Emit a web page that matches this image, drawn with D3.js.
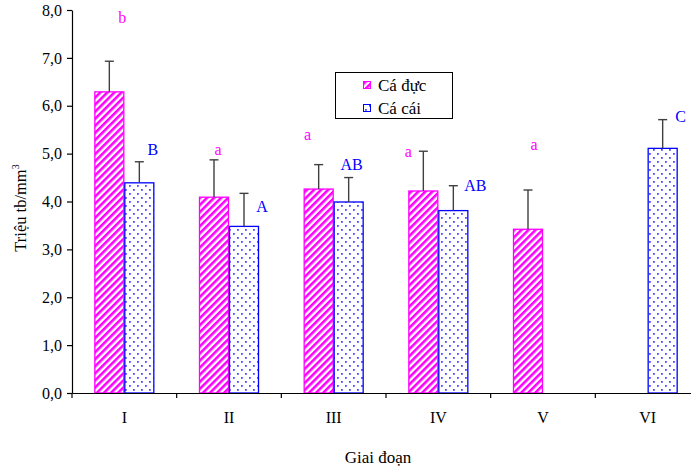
<!DOCTYPE html>
<html><head><meta charset="utf-8">
<script src="https://cdn.jsdelivr.net/npm/d3@7"></script>
<style>
body{margin:0;background:#fff;}
svg text{font-family:"Liberation Serif","Times New Roman","DejaVu Serif",serif !important;}
</style></head>
<body><svg id="c" width="691" height="470" font-family="Liberation Serif, serif"></svg>
<script>
const categories = ["I","II","III","IV","V","VI"];
const seriesNames = ["Cá đực","Cá cái"];
const maleMean = [6.29, 4.09, 4.26, 4.22, 3.42, null];
const maleSD   = [0.64, 0.78, 0.51, 0.83, 0.82, null];
const femaleMean = [4.39, 3.48, 3.99, 3.81, null, 5.11];
const femaleSD   = [0.44, 0.69, 0.51, 0.52, null, 0.60];
const yTicks = [0,1,2,3,4,5,6,7,8];
// significance letters: [category, series index, text, value level]
const letters = [
  ["I",0,"b",7.85],["I",1,"B",5.09],
  ["II",0,"a",5.09],["II",1,"A",3.89],
  ["III",0,"a",5.40],["III",1,"AB",4.77],
  ["IV",0,"a",5.05],["IV",1,"AB",4.33],
  ["V",0,"a",5.19],
  ["VI",1,"C",5.77]
];
const letterDx = [13,13.5,4,18,-11,3,-15,22,6,18];

const svg = d3.select("#c");
const x = d3.scaleBand().domain(categories).range([72,700]).padding(0);
const y = d3.scaleLinear().domain([0,8]).range([393,10]);
const barW = 30;
const x1 = d3.scaleBand().domain([0,1]).range([x.bandwidth()/2-barW, x.bandwidth()/2+barW]);

const defs = svg.append("defs");
const hatch = defs.append("pattern").attr("id","hatch").attr("patternUnits","userSpaceOnUse")
  .attr("width",5).attr("height",5).attr("patternTransform","rotate(45)");
hatch.append("rect").attr("width",5).attr("height",5).attr("fill","#fff");
hatch.append("rect").attr("width",2.6).attr("height",5).attr("fill","#ff00ff");
const dots = defs.append("pattern").attr("id","dots").attr("patternUnits","userSpaceOnUse")
  .attr("width",8).attr("height",8);
dots.append("rect").attr("width",8).attr("height",8).attr("fill","#fff");
[[1,1],[5,5]].forEach(p=>dots.append("rect").attr("x",p[0]).attr("y",p[1]).attr("width",1.8).attr("height",1.8).attr("fill","#4d4dff"));

const fills = ["url(#hatch)","url(#dots)"];
const strokes = ["#ff00ff","#0000ff"];
const letterColors = ["#ff00ff","#0000ff"];

const rows = [];
categories.forEach((c,i)=>{
  [[maleMean,maleSD],[femaleMean,femaleSD]].forEach((s,k)=>{
    if(s[0][i]!=null) rows.push({c, k, v:s[0][i], sd:s[1][i]});
  });
});

// bars
svg.append("g").selectAll("rect").data(rows).join("rect")
  .attr("x",d=>x(d.c)+x1(d.k)+0.5)
  .attr("y",d=>y(d.v))
  .attr("width",x1.bandwidth()-1)
  .attr("height",d=>y(0)-y(d.v))
  .attr("fill",d=>fills[d.k])
  .attr("stroke",d=>strokes[d.k]).attr("stroke-width",1.3);

// error bars
const eb = svg.append("g").attr("stroke","#404040").attr("stroke-width",1.4);
rows.forEach(d=>{
  const cx = x(d.c)+x1(d.k)+x1.bandwidth()/2;
  eb.append("line").attr("x1",cx).attr("x2",cx).attr("y1",y(d.v)).attr("y2",y(d.v+d.sd));
  eb.append("line").attr("x1",cx-4.5).attr("x2",cx+4.5).attr("y1",y(d.v+d.sd)).attr("y2",y(d.v+d.sd));
});

// letters
svg.append("g").selectAll("text").data(letters).join("text")
  .attr("x",(d,i)=>x(d[0])+x1(d[1])+x1.bandwidth()/2+letterDx[i])
  .attr("y",d=>y(d[3]))
  .attr("dy","0.35em")
  .attr("text-anchor","middle")
  .attr("font-size",16)
  .attr("fill",d=>letterColors[d[1]])
  .text(d=>d[2]);

// y axis
const yAxis = svg.append("g").attr("transform","translate(72,0)")
  .call(d3.axisLeft(y).tickValues(yTicks).tickSize(5).tickSizeOuter(0).tickPadding(5)
    .tickFormat(d=>d3.format(".1f")(d).replace(".",",")));
yAxis.attr("font-family",null).attr("font-size",null);
yAxis.selectAll("text").attr("font-size",16).attr("fill","#000");
yAxis.select(".domain").attr("stroke","#000").attr("stroke-width",1.2);
yAxis.selectAll(".tick line").attr("stroke","#000").attr("stroke-width",1.2);

// x axis
const xAxis = svg.append("g").attr("transform","translate(0,393)")
  .call(d3.axisBottom(x).tickSize(0).tickSizeOuter(0).tickPadding(19));
xAxis.attr("font-family",null).attr("font-size",null);
xAxis.selectAll("text").attr("font-size",16).attr("fill","#000");
xAxis.select(".domain").attr("stroke","#000").attr("stroke-width",1.2);
const bounds = categories.map(c=>x(c)).concat([x.range()[1]]);
xAxis.selectAll("line.bt").data(bounds).join("line").attr("class","bt")
  .attr("x1",d=>d).attr("x2",d=>d).attr("y1",0).attr("y2",5)
  .attr("stroke","#000").attr("stroke-width",1.2);

// axis titles
const yt = svg.append("text").attr("transform","translate(26,208) rotate(-90)")
  .attr("text-anchor","middle").attr("font-size",16.5).attr("fill","#000");
yt.append("tspan").text("Triệu tb/mm");
yt.append("tspan").attr("dy",-7).attr("font-size",10).text("3");
svg.append("text").attr("x",378).attr("y",463).attr("text-anchor","middle")
  .attr("font-size",17).attr("fill","#000").text("Giai đoạn");

// legend
const lg = svg.append("g");
lg.append("rect").attr("x",335.5).attr("y",72.5).attr("width",117).attr("height",46)
  .attr("fill","#fff").attr("stroke","#000").attr("stroke-width",1);
seriesNames.forEach((n,k)=>{
  const cy = 85 + k*23;
  lg.append("rect").attr("x",363.5).attr("y",cy-3.5).attr("width",7).attr("height",7)
    .attr("fill",fills[k]).attr("stroke",strokes[k]).attr("stroke-width",1);
  lg.append("text").attr("x",378).attr("y",cy).attr("dy","0.35em").attr("font-size",17)
    .attr("fill","#000").text(n);
});
</script></body></html>
